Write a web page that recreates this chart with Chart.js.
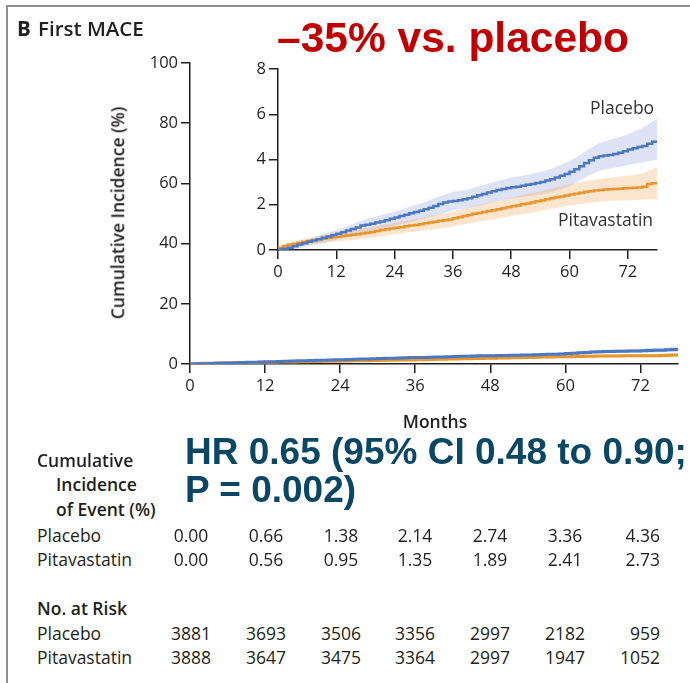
<!DOCTYPE html>
<html>
<head>
<meta charset="utf-8">
<script src="https://cdn.jsdelivr.net/npm/chart.js@4.4.1/dist/chart.umd.min.js"></script>
<style>
  html, body { margin: 0; padding: 0; background: #fff; }
  body { width: 690px; height: 683px; position: relative; overflow: hidden;
         font-family: "Open Sans", sans-serif; color: #231f20; }
  .frame { position: absolute; left: 6px; top: 5px; width: 720px; height: 720px;
           border-left: 2px solid #8f8f8f; border-top: 2px solid #8f8f8f; }
  .t { position: absolute; white-space: nowrap; line-height: 1; }
  .b { font-weight: 600; }
  .big { font-family: "Liberation Sans", Arial, sans-serif; font-weight: bold; }
  canvas { position: absolute; }
  .num { position: absolute; white-space: nowrap; line-height: 1; width: 70px; font-size: 17.5px; }
</style>
</head>
<body>
<div class="frame"></div>

<canvas id="mainChart" width="690" height="440" style="left:0;top:0;width:690px;height:440px"></canvas>
<canvas id="insetChart" width="490" height="260" style="left:200px;top:40px;width:490px;height:260px"></canvas>

<div class="t" style="left:17px;top:17.5px;font-size:20.5px;font-weight:700">B</div>
<div class="t b" style="left:38px;top:17.5px;font-size:20.5px">First MACE</div>
<div class="t big" style="left:277px;top:16.5px;font-size:42.5px;color:#c00000">–35% vs. placebo</div>

<div class="t" style="left:118px;top:213px;font-size:17.5px;font-weight:600;transform:translate(-50%,-50%) rotate(-90deg);">Cumulative Incidence (%)</div>
<div class="t b" style="left:435px;top:412.5px;font-size:17.5px;transform:translateX(-50%)">Months</div>

<div class="t" style="left:590px;top:98.5px;font-size:17.5px;color:#333">Placebo</div>
<div class="t" style="left:558px;top:210.5px;font-size:17.5px;color:#333">Pitavastatin</div>

<div class="t big" style="left:185px;top:432.5px;font-size:37px;color:#0a4765">HR 0.65 (95% CI 0.48 to 0.90;</div>
<div class="t big" style="left:185px;top:470.5px;font-size:37px;color:#0a4765">P = 0.002)</div>

<div class="t b" style="left:37px;top:451.5px;font-size:17.5px">Cumulative</div>
<div class="t b" style="left:56px;top:476px;font-size:17.5px">Incidence</div>
<div class="t b" style="left:56px;top:500.5px;font-size:17.5px">of Event (%)</div>
<div class="t" style="left:37px;top:526.5px;font-size:17.5px">Placebo</div>
<div class="t" style="left:37px;top:550.5px;font-size:17.5px">Pitavastatin</div>

<div class="t b" style="left:37px;top:599.5px;font-size:17.5px">No. at Risk</div>
<div class="t" style="left:37px;top:624.5px;font-size:17.5px">Placebo</div>
<div class="t" style="left:37px;top:648.5px;font-size:17.5px">Pitavastatin</div>

<div id="tableCells"></div>

<script>
// Follow-up time (months) for the Kaplan-Meier style step curves
const months = [0,1,2,3,4,5,6,7,8,9,10,11,12,13,14,15,16,17,18,19,20,21,22,23,24,25,26,27,28,29,
  30,31,32,33,34,35,36,37,38,39,40,41,42,43,44,45,46,47,48,49,50,51,52,53,54,55,56,57,58,59,
  60,61,62,63,64,65,66,67,68,69,70,71,72,73,74,75,76,77,78];

// Cumulative incidence of first MACE (%)
const placeboIncidence = [0.00,0.02,0.05,0.10,0.17,0.24,0.30,0.36,0.42,0.48,0.54,0.60,0.66,0.72,0.78,
  0.86,0.93,1.00,1.08,1.12,1.16,1.21,1.26,1.32,1.38,1.44,1.50,1.56,1.62,1.68,1.74,1.80,1.87,1.95,
  2.03,2.10,2.14,2.17,2.20,2.24,2.29,2.35,2.42,2.48,2.54,2.60,2.65,2.70,2.74,2.77,2.80,2.84,2.88,
  2.92,2.96,3.01,3.07,3.13,3.20,3.28,3.36,3.46,3.57,3.70,3.84,3.97,4.08,4.14,4.18,4.20,4.24,4.30,
  4.36,4.44,4.50,4.55,4.60,4.70,4.78];
const pitavastatinIncidence = [0.00,0.10,0.18,0.24,0.28,0.32,0.36,0.40,0.43,0.46,0.50,0.53,0.56,0.59,
  0.62,0.64,0.67,0.70,0.73,0.76,0.80,0.84,0.88,0.92,0.95,0.98,1.01,1.05,1.08,1.11,1.14,1.18,1.21,
  1.25,1.29,1.32,1.35,1.40,1.45,1.50,1.55,1.60,1.64,1.68,1.72,1.76,1.80,1.85,1.89,1.93,1.97,2.02,
  2.06,2.10,2.15,2.19,2.24,2.29,2.33,2.37,2.41,2.45,2.49,2.53,2.57,2.60,2.63,2.65,2.67,2.69,2.70,
  2.71,2.73,2.74,2.75,2.76,2.80,2.92,2.95];

// 95% confidence bands
const bandMonths = [0,3,6,9,12,15,18,21,24,27,30,33,36,39,42,45,48,51,54,57,60,63,66,69,72,75,78];
const placeboLower = [0,0.02,0.15,0.30,0.45,0.62,0.80,0.92,1.08,1.22,1.38,1.55,1.76,1.85,1.98,2.15,
  2.28,2.36,2.45,2.60,2.82,3.18,3.50,3.62,3.75,3.88,4.00];
const placeboUpper = [0,0.20,0.45,0.68,0.88,1.10,1.36,1.52,1.70,1.90,2.10,2.35,2.56,2.66,2.85,3.05,
  3.20,3.30,3.45,3.65,3.92,4.32,4.72,4.92,5.10,5.40,5.80];
const pitavastatinLower = [0,0.10,0.22,0.30,0.38,0.44,0.52,0.60,0.70,0.78,0.86,0.95,1.04,1.16,1.28,
  1.38,1.50,1.60,1.72,1.84,1.96,2.06,2.14,2.18,2.20,2.22,2.25];
const pitavastatinUpper = [0,0.38,0.52,0.64,0.76,0.85,0.96,1.08,1.22,1.32,1.44,1.56,1.70,1.86,2.02,
  2.16,2.30,2.46,2.60,2.76,2.90,3.04,3.14,3.20,3.28,3.38,3.65];

// Axis ticks
const monthTicks = [0, 12, 24, 36, 48, 60, 72];
const mainYTicks = [0, 20, 40, 60, 80, 100];
const insetYTicks = [0, 2, 4, 6, 8];

// Table below the plot
const tableMonths = [0, 12, 24, 36, 48, 60, 72];
const placeboTableIncidence = ["0.00","0.66","1.38","2.14","2.74","3.36","4.36"];
const pitavastatinTableIncidence = ["0.00","0.56","0.95","1.35","1.89","2.41","2.73"];
const placeboAtRisk = [3881, 3693, 3506, 3356, 2997, 2182, 959];
const pitavastatinAtRisk = [3888, 3647, 3475, 3364, 2997, 1947, 1052];

const INK = '#231f20';
const BLUE = '#4a78c2';
const ORANGE = '#e8952c';
const BLUE_BAND = 'rgba(150,165,220,0.32)';
const ORANGE_BAND = 'rgba(242,180,110,0.34)';

const pts = (xs, ys) => xs.map((x, i) => ({ x, y: ys[i] }));

function buildDatasets(lineWidth) {
  return [
    { data: pts(bandMonths, placeboLower), borderWidth: 0, pointRadius: 0, fill: false, order: 5 },
    { data: pts(bandMonths, placeboUpper), borderWidth: 0, pointRadius: 0, fill: '-1',
      backgroundColor: BLUE_BAND, order: 5 },
    { data: pts(bandMonths, pitavastatinLower), borderWidth: 0, pointRadius: 0, fill: false, order: 4 },
    { data: pts(bandMonths, pitavastatinUpper), borderWidth: 0, pointRadius: 0, fill: '-1',
      backgroundColor: ORANGE_BAND, order: 4 },
    { label: 'Pitavastatin', data: pts(months, pitavastatinIncidence), borderColor: ORANGE,
      borderWidth: lineWidth, pointRadius: 0, stepped: 'after', fill: false, order: 2 },
    { label: 'Placebo', data: pts(months, placeboIncidence), borderColor: BLUE,
      borderWidth: lineWidth, pointRadius: 0, stepped: 'after', fill: false, order: 1 }
  ];
}

function axis(min, max, tickValues, sizeKey, size) {
  return {
    type: 'linear', min, max,
    afterBuildTicks: s => { s.ticks = tickValues.map(v => ({ value: v })); },
    afterFit: s => { s[sizeKey] = size; },
    grid: { drawOnChartArea: false, drawTicks: true, tickLength: 9, color: INK, lineWidth: 1.5 },
    border: { display: true, color: INK, width: 1.5 },
    ticks: { color: INK, font: { family: 'Open Sans', size: 16.5 }, padding: 3, maxRotation: 0,
             autoSkip: false }
  };
}

const common = {
  responsive: false, animation: false, devicePixelRatio: 1,
  plugins: { legend: { display: false }, tooltip: { enabled: false } },
  elements: { line: { tension: 0 } }
};

new Chart(document.getElementById('mainChart'), {
  type: 'line',
  data: { datasets: buildDatasets(3) },
  options: Object.assign({}, common, {
    layout: { padding: { top: 63, right: 12, bottom: 0, left: 0 } },
    scales: {
      x: axis(0, 78, monthTicks, 'height', 76),
      y: axis(0, 100, mainYTicks, 'width', 190)
    }
  })
});

new Chart(document.getElementById('insetChart'), {
  type: 'line',
  data: { datasets: buildDatasets(2.5) },
  options: Object.assign({}, common, {
    layout: { padding: { top: 29, right: 33, bottom: 0, left: 0 } },
    scales: {
      x: axis(0, 78, monthTicks, 'height', 50),
      y: axis(0, 8, insetYTicks, 'width', 78)
    }
  })
});

// Numbers under the plot, one column per time point
const colCenters = [191, 266, 341, 415, 490, 565, 0];
const rows = [
  { values: placeboTableIncidence, top: 526.5 },
  { values: pitavastatinTableIncidence, top: 550.5 },
  { values: placeboAtRisk, top: 624.5 },
  { values: pitavastatinAtRisk, top: 648.5 }
];
const host = document.getElementById('tableCells');
rows.forEach(r => {
  tableMonths.forEach((m, i) => {
    const d = document.createElement('div');
    d.className = 'num';
    d.textContent = String(r.values[i]);
    d.style.top = r.top + 'px';
    if (i === tableMonths.length - 1) {
      d.style.left = (660 - 70) + 'px';
      d.style.textAlign = 'right';
    } else {
      d.style.left = (colCenters[i] - 35) + 'px';
      d.style.textAlign = 'center';
    }
    host.appendChild(d);
  });
});
</script>
</body>
</html>
